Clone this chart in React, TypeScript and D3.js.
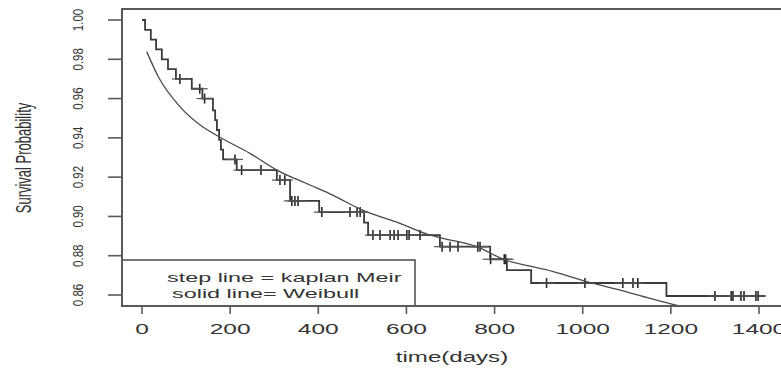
import { useEffect, useRef } from 'react';
import * as d3 from 'd3';

// Kaplan-Meier drops (time in days, survival after drop)
const kmTimes = [0, 7, 20, 32, 45, 59, 77, 113, 137, 161, 166, 170, 175, 179, 184, 215, 306, 336, 402, 504, 513, 676, 790, 828, 883, 1190];
const kmSurv = [1.0, 0.995, 0.99, 0.985, 0.98, 0.975, 0.97, 0.965, 0.96, 0.954, 0.949, 0.944, 0.939, 0.934, 0.929, 0.9236, 0.9185, 0.9079, 0.9022, 0.8968, 0.8905, 0.8846, 0.8782, 0.8727, 0.8661, 0.8595];
const kmEnd = 1414;

// censored times
const censorTimes = [86, 131, 142, 211, 226, 270, 313, 324, 340, 347, 354, 408, 472, 488, 495, 524, 540, 563, 572, 581, 601, 606, 631, 681, 699, 717, 762, 767, 791, 822, 825, 918, 1005, 1091, 1114, 1125, 1300, 1337, 1341, 1359, 1366, 1393, 1398];

// Weibull fit
const wbTimes = [10.7, 37, 86, 132, 181, 245, 306, 381, 434, 499, 585, 650, 680, 760, 820, 903, 933, 1009, 1085, 1153, 1228, 1240];
const wbSurv = [0.9839, 0.9711, 0.9559, 0.9465, 0.9398, 0.9321, 0.9236, 0.916, 0.9107, 0.9033, 0.8965, 0.8908, 0.889, 0.8846, 0.8782, 0.8736, 0.8719, 0.8668, 0.8625, 0.8583, 0.854, 0.8534];

const xTicks = [0, 200, 400, 600, 800, 1000, 1200, 1400];
const yTicks = [0.86, 0.88, 0.9, 0.92, 0.94, 0.96, 0.98, 1.0];
const legendLines = ['step line = kaplan Meir', 'solid line= Weibull'];

function App() {
  const ref = useRef(null);

  useEffect(() => {
    const svg = d3.select(ref.current);
    svg.selectAll('*').remove();

    const left = 122, top = 9, bottom = 306, right = 782;
    const x = d3.scaleLinear().domain([0, 1400]).range([142, 759]);
    const y = d3.scaleLinear().domain([0.86, 1.0]).range([295, 20]);
    const ink = '#333';
    const font = 'Liberation Sans, Arial, sans-serif';

    svg.append('defs').append('clipPath').attr('id', 'plotclip')
      .append('rect').attr('x', left).attr('y', top).attr('width', right - left).attr('height', bottom - top);

    const plot = svg.append('g').attr('clip-path', 'url(#plotclip)');

    // KM step line
    const kmPts = kmTimes.map((t, i) => [t, kmSurv[i]]);
    kmPts.push([kmEnd, kmSurv[kmSurv.length - 1]]);
    const step = d3.line().x(d => x(d[0])).y(d => y(d[1])).curve(d3.curveStepAfter);
    plot.append('path').attr('d', step(kmPts)).attr('fill', 'none')
      .attr('stroke', '#3a3a3a').attr('stroke-width', 1.8);

    // censor marks as "+"
    const survAt = t => {
      let s = 1;
      kmTimes.forEach((kt, i) => { if (kt <= t) s = kmSurv[i]; });
      return s;
    };
    const marks = plot.append('g').attr('stroke', '#2a2a2a').attr('stroke-width', 1.6);
    censorTimes.forEach(t => {
      const cx = x(t), cy = y(survAt(t));
      marks.append('line').attr('x1', cx).attr('x2', cx).attr('y1', cy - 5).attr('y2', cy + 5);
      marks.append('line').attr('x1', cx - 8).attr('x2', cx + 8).attr('y1', cy).attr('y2', cy)
        .attr('stroke-width', 1.2).attr('stroke', '#555');
    });

    // Weibull curve
    const wb = d3.line().x((d, i) => x(wbTimes[i])).y(d => y(d)).curve(d3.curveMonotoneX);
    plot.append('path').attr('d', wb(wbSurv)).attr('fill', 'none')
      .attr('stroke', '#4a4a4a').attr('stroke-width', 1.3);

    // legend
    svg.append('rect').attr('x', left).attr('y', 260).attr('width', 415 - left).attr('height', bottom - 260)
      .attr('fill', 'white').attr('stroke', '#555').attr('stroke-width', 1.6);
    const legX = [167, 172];
    const legY = [282, 298];
    legendLines.forEach((s, i) => {
      svg.append('text').attr('transform', `translate(${legX[i]},${legY[i]}) scale(1.8,1)`)
        .attr('font-family', font).attr('font-size', 13).attr('fill', ink).text(s);
    });

    // plot box
    svg.append('rect').attr('x', left).attr('y', top).attr('width', right - left).attr('height', bottom - top)
      .attr('fill', 'none').attr('stroke', '#5a5a5a').attr('stroke-width', 2);

    // x axis
    const xa = svg.append('g');
    xTicks.forEach(t => {
      xa.append('line').attr('x1', x(t)).attr('x2', x(t)).attr('y1', bottom).attr('y2', 314)
        .attr('stroke', '#5a5a5a').attr('stroke-width', 1.6);
      xa.append('text').attr('transform', `translate(${x(t)},334) scale(1.75,1)`)
        .attr('text-anchor', 'middle').attr('font-family', font).attr('font-size', 14)
        .attr('fill', ink).text(d3.format('d')(t));
    });
    svg.append('text').attr('transform', 'translate(452,362) scale(1.72,1)')
      .attr('text-anchor', 'middle').attr('font-family', font).attr('font-size', 14)
      .attr('fill', ink).text('time(days)');

    // y axis
    const ya = svg.append('g');
    yTicks.forEach(v => {
      ya.append('line').attr('x1', 108).attr('x2', left).attr('y1', y(v)).attr('y2', y(v))
        .attr('stroke', '#5a5a5a').attr('stroke-width', 1.6);
      ya.append('text').attr('transform', `translate(83,${y(v)}) scale(1.35,1) rotate(-90)`)
        .attr('text-anchor', 'middle').attr('font-family', font).attr('font-size', 11.5)
        .attr('fill', ink).text(d3.format('.2f')(v));
    });
    svg.append('text').attr('transform', 'translate(31,158) scale(1.7,1) rotate(-90)')
      .attr('text-anchor', 'middle').attr('font-family', font).attr('font-size', 13)
      .attr('fill', ink).text('Survival Probability');
  }, []);

  return (
    <svg ref={ref} width={781} height={371} style={{ position: 'absolute', left: 0, top: 0, background: 'white' }} />
  );
}

export default App;
